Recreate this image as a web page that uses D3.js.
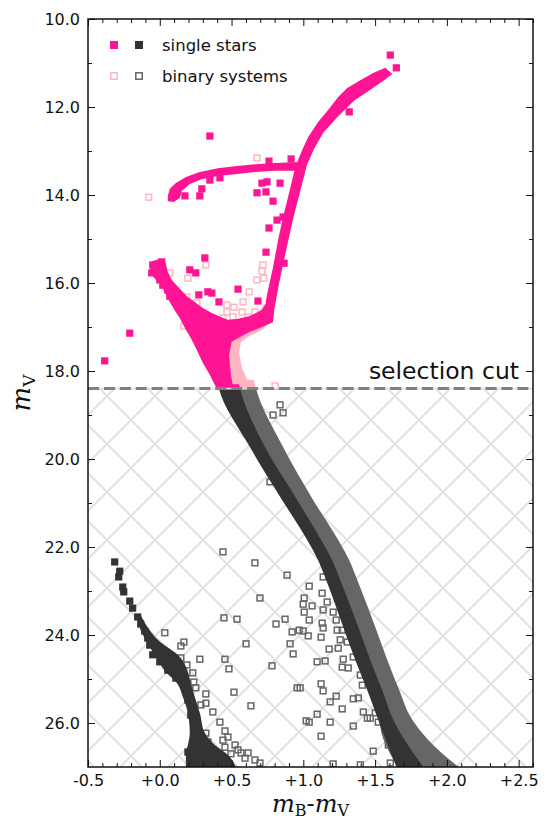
<!DOCTYPE html>
<html>
<head>
<meta charset="utf-8">
<script src="https://cdn.jsdelivr.net/npm/d3@7"></script>
<style>
  body { margin: 0; background: #fff; }
  text { font-family: "DejaVu Sans", sans-serif; fill: #111; }
</style>
</head>
<body>
<svg id="chart" width="549" height="821"></svg>
<script>
// selection cut in m_V
var cutMag = 18.4;

// dense sequences as bands: [mV, B-V left edge, B-V right edge]
var singleMS = [
  [18.30, 0.405, 0.552], [18.40, 0.412, 0.559], [19.73, 0.628, 0.733],
  [20.93, 0.852, 0.957], [21.84, 1.027, 1.124], [22.30, 1.103, 1.201],
  [22.75, 1.159, 1.257], [23.82, 1.278, 1.383], [24.57, 1.362, 1.466],
  [25.32, 1.453, 1.557], [25.93, 1.522, 1.627], [27.00, 1.648, 1.837]
];
var binaryMS = [
  [18.20, 0.45, 0.655], [18.40, 0.46, 0.670], [19.73, 0.65, 0.859],
  [20.93, 0.87, 1.068], [21.84, 1.05, 1.243], [22.30, 1.12, 1.320],
  [22.75, 1.18, 1.376], [23.82, 1.30, 1.501], [24.57, 1.38, 1.585],
  [25.32, 1.47, 1.676], [25.86, 1.52, 1.746], [26.39, 1.56, 1.872],
  [27.00, 1.66, 2.081]
];
var blueMS = [
  [23.55, -0.161, -0.133], [23.89, -0.133, -0.070], [24.11, -0.098, -0.014],
  [24.50, -0.028, 0.140], [24.84, 0.042, 0.196], [25.09, 0.119, 0.216],
  [25.41, 0.161, 0.244], [25.77, 0.196, 0.279], [26.23, 0.209, 0.314],
  [26.50, 0.196, 0.384], [26.73, 0.182, 0.475], [27.00, 0.182, 0.531]
];

// dense regions above the cut as outlines: [B-V, mV]
var turnoffBlob = [
  [0.398, 18.41], [0.349, 18.09], [0.300, 17.82], [0.258, 17.52], [0.216, 17.25],
  [0.175, 17.02], [0.140, 16.80], [0.098, 16.59], [0.063, 16.39], [0.028, 16.16],
  [-0.014, 15.98], [-0.056, 15.82], [-0.070, 15.61], [-0.049, 15.50], [0.000, 15.45],
  [0.042, 15.55], [0.056, 15.75], [0.084, 15.93], [0.133, 16.11], [0.189, 16.30],
  [0.244, 16.43], [0.300, 16.57], [0.363, 16.68], [0.426, 16.77], [0.489, 16.86],
  [0.503, 17.30], [0.482, 17.64], [0.496, 18.09], [0.517, 18.48]
];
var subgiant = [
  [0.461, 16.84], [0.538, 16.82], [0.628, 16.75], [0.712, 16.61], [0.754, 16.39],
  [0.789, 16.50], [0.789, 16.89], [0.712, 17.00], [0.628, 17.11], [0.559, 17.23],
  [0.489, 17.36], [0.461, 17.18]
];
var giantBranch = [
  [0.733, 16.73], [0.740, 16.39], [0.754, 16.16], [0.789, 15.64], [0.824, 15.02],
  [0.859, 14.50], [0.901, 13.95], [0.936, 13.48], [0.964, 13.20], [0.992, 12.98],
  [1.034, 12.68], [1.103, 12.34], [1.173, 12.07], [1.243, 11.77], [1.306, 11.57],
  [1.397, 11.39], [1.487, 11.23], [1.571, 11.11],
  [1.620, 11.25], [1.560, 11.40], [1.470, 11.60], [1.355, 11.85], [1.240, 12.22],
  [1.140, 12.58], [1.075, 12.95], [1.025, 13.32], [0.980, 13.89], [0.932, 14.50],
  [0.896, 15.02], [0.861, 15.55], [0.826, 16.09], [0.798, 16.61], [0.789, 16.89]
];
var horizontalBranch = [
  [0.056, 14.02], [0.070, 13.86], [0.112, 13.73], [0.182, 13.59], [0.279, 13.48],
  [0.405, 13.39], [0.538, 13.34], [0.663, 13.30], [0.803, 13.27], [0.964, 13.25],
  [0.978, 13.45], [0.803, 13.45], [0.663, 13.48], [0.538, 13.52], [0.405, 13.57],
  [0.293, 13.64], [0.209, 13.75], [0.154, 13.91], [0.140, 14.07], [0.098, 14.16],
  [0.056, 14.14]
];
var binarySubgiant = [
  [0.475, 18.48], [0.468, 17.52], [0.503, 17.25], [0.559, 17.07], [0.628, 16.93],
  [0.684, 16.75], [0.719, 16.50], [0.768, 16.45], [0.782, 16.84], [0.712, 17.07],
  [0.628, 17.20], [0.566, 17.34], [0.552, 17.57], [0.573, 17.93], [0.608, 18.20],
  [0.642, 18.48]
];

// individual stars: [B-V, mV]
var singleStars = [
  [1.606, 10.82], [1.648, 11.11], [1.320, 12.11], [0.349, 12.66], [0.761, 13.23],
  [0.915, 13.18], [0.712, 13.73], [0.747, 13.70], [0.838, 13.73], [0.677, 13.95],
  [0.740, 13.93], [0.789, 14.14], [0.293, 13.86], [0.279, 14.02], [0.175, 14.02],
  [0.419, 13.61], [0.349, 13.66], [0.761, 14.75], [0.859, 14.50], [0.817, 14.57],
  [0.740, 15.30], [0.866, 15.55], [0.314, 15.43], [0.209, 15.70], [0.251, 15.77],
  [0.545, 16.14], [0.272, 16.27], [0.335, 16.20], [0.363, 16.23], [0.412, 16.43],
  [0.684, 16.41], [-0.209, 17.14], [-0.384, 17.77],
  [-0.049, 15.59], [-0.021, 15.70], [-0.056, 15.77], [0.000, 15.93], [0.021, 16.05],
  [0.056, 16.16], [0.070, 16.30], [0.112, 16.20], [0.014, 15.52],
  [-0.314, 22.34], [-0.279, 22.55], [-0.286, 22.68], [-0.258, 22.91], [-0.251, 23.02],
  [-0.209, 23.23], [-0.189, 23.39], [-0.154, 23.59], [-0.133, 23.75], [-0.105, 23.91],
  [-0.084, 24.07], [-0.070, 24.23], [-0.049, 24.45], [0.000, 24.61], [0.056, 24.80],
  [0.112, 24.98], [0.175, 25.18], [0.196, 25.48], [0.216, 25.82], [0.237, 26.09],
  [0.258, 26.32], [0.286, 26.48], [0.196, 26.66]
];
var binaryStars = [
  [-0.077, 14.05], [0.677, 13.16], [0.321, 15.59], [0.070, 15.77], [0.196, 15.89],
  [0.189, 16.32], [0.258, 16.45], [0.622, 16.20], [0.719, 15.59], [0.712, 15.73],
  [0.677, 15.93], [0.726, 15.89], [0.580, 16.43], [0.517, 16.55], [0.468, 16.50],
  [0.468, 16.66], [0.510, 16.77], [0.573, 16.66], [0.440, 16.80], [0.168, 16.98],
  [0.615, 16.77], [0.663, 16.66], [0.803, 18.34],
  [0.838, 18.77], [0.789, 19.00], [0.859, 18.95], [0.768, 20.52], [0.440, 22.11],
  [0.663, 22.36], [0.887, 22.64], [0.698, 23.16], [0.447, 23.61], [0.538, 23.64],
  [0.810, 23.75], [0.873, 23.64], [0.922, 23.93], [0.971, 23.89], [1.006, 23.16],
  [0.999, 23.30], [1.006, 23.48], [0.035, 23.95], [0.168, 24.16], [0.147, 24.25],
  [0.601, 24.20], [0.908, 24.20], [0.929, 24.43], [0.279, 24.55], [0.454, 24.55],
  [0.147, 24.52], [0.189, 24.68], [0.482, 24.77], [0.782, 24.70], [0.230, 24.86],
  [0.237, 25.07], [0.251, 25.20], [0.321, 25.34], [0.321, 25.55], [0.286, 25.59],
  [0.517, 25.30], [0.957, 25.20], [0.635, 25.61], [0.370, 25.75], [0.419, 25.98],
  [1.020, 25.95], [0.454, 26.18], [0.475, 26.32], [0.321, 26.23], [0.335, 26.43],
  [0.440, 26.39], [0.454, 26.55], [0.524, 26.50], [0.545, 26.61], [0.566, 26.68],
  [0.615, 26.68], [0.496, 26.70], [0.594, 26.80], [0.663, 26.84], [0.698, 26.91],
  [1.041, 22.89], [1.138, 22.68], [1.131, 23.05], [1.061, 23.34], [1.138, 23.43],
  [1.208, 23.48], [1.166, 23.25], [1.041, 23.66], [1.131, 23.73], [1.229, 23.66],
  [1.138, 23.84], [1.236, 23.89], [1.271, 23.89], [0.999, 23.91], [1.034, 24.02],
  [1.124, 24.05], [1.257, 24.11], [1.306, 24.16], [1.180, 24.32], [1.243, 24.30],
  [1.096, 24.61], [1.152, 24.59], [1.278, 24.55], [1.271, 24.73], [1.313, 24.75],
  [1.348, 24.50], [1.397, 24.91], [1.411, 25.14], [1.124, 25.11], [1.138, 25.27],
  [1.229, 25.39], [1.187, 25.52], [1.271, 25.68], [1.348, 25.45], [1.383, 25.43],
  [1.418, 25.75], [1.446, 25.89], [1.466, 25.89], [1.501, 25.77], [1.522, 25.98],
  [1.096, 25.80], [1.041, 25.98], [1.187, 25.98], [1.348, 26.07], [1.124, 26.30],
  [1.571, 26.16], [1.592, 26.50], [1.487, 26.64], [0.978, 25.20], [1.606, 26.91],
  [1.208, 26.93], [1.397, 26.95]
];

// axes
var xDomain = [-0.5, 2.6];
var yDomain = [10, 27];
var xMajor = [-0.5, 0.0, 0.5, 1.0, 1.5, 2.0, 2.5];
var yMajor = [10, 12, 14, 16, 18, 20, 22, 24, 26];

var legendRows = [
  { label: 'single stars', hollow: false },
  { label: 'binary systems', hollow: true }
];

// colours above / below the cut
var colors = {
  above: { single: '#ff1493', binary: '#ffb6c1' },
  below: { single: '#333333', binary: '#666666' }
};

var margin = { left: 88, right: 533, top: 19, bottom: 767 };
var svg = d3.select('#chart');
var x = d3.scaleLinear().domain(xDomain).range([margin.left, margin.right]);
var y = d3.scaleLinear().domain(yDomain).range([margin.top, margin.bottom]);
var yCut = y(cutMag);

var defs = svg.append('defs');
defs.append('clipPath').attr('id', 'clip-above')
  .append('rect')
  .attr('x', margin.left).attr('y', margin.top)
  .attr('width', margin.right - margin.left).attr('height', yCut - margin.top);
defs.append('clipPath').attr('id', 'clip-below')
  .append('rect')
  .attr('x', margin.left).attr('y', yCut)
  .attr('width', margin.right - margin.left).attr('height', margin.bottom - yCut);

var hatch = defs.append('pattern')
  .attr('id', 'hatch')
  .attr('patternUnits', 'userSpaceOnUse')
  .attr('width', 48).attr('height', 48)
  .attr('x', 131).attr('y', 372);
hatch.append('path')
  .attr('d', 'M-12,-12L60,60M60,-12L-12,60')
  .attr('stroke', '#dddddd')
  .attr('stroke-width', 1.6)
  .attr('fill', 'none');

// hatched region below the cut
svg.append('rect')
  .attr('x', margin.left).attr('y', yCut)
  .attr('width', margin.right - margin.left).attr('height', margin.bottom - yCut)
  .attr('fill', 'url(#hatch)');

var band = d3.area()
  .y(function(d){ return y(d[0]); })
  .x0(function(d){ return x(d[1]); })
  .x1(function(d){ return x(d[2]); })
  .curve(d3.curveMonotoneY);
var outline = d3.line()
  .x(function(d){ return x(d[0]); })
  .y(function(d){ return y(d[1]); })
  .curve(d3.curveLinearClosed);

function drawBinaries(side){
  var c = colors[side].binary;
  var g = svg.append('g').attr('clip-path', 'url(#clip-' + side + ')');
  g.append('path').attr('d', band(binaryMS)).attr('fill', c);
  g.append('path').attr('d', outline(binarySubgiant)).attr('fill', c);
  g.selectAll('rect.bin')
    .data(binaryStars)
    .enter().append('rect')
    .attr('class', 'bin')
    .attr('x', function(d){ return x(d[0]) - 2.9; })
    .attr('y', function(d){ return y(d[1]) - 2.9; })
    .attr('width', 5.8).attr('height', 5.8)
    .attr('fill', 'none')
    .attr('stroke', c)
    .attr('stroke-width', 1.5);
}

function drawSingles(side){
  var c = colors[side].single;
  var g = svg.append('g').attr('clip-path', 'url(#clip-' + side + ')');
  g.append('path').attr('d', band(singleMS)).attr('fill', c);
  g.append('path').attr('d', band(blueMS)).attr('fill', c);
  [turnoffBlob, subgiant, giantBranch, horizontalBranch].forEach(function(poly){
    g.append('path').attr('d', outline(poly)).attr('fill', c);
  });
  g.selectAll('rect.single')
    .data(singleStars)
    .enter().append('rect')
    .attr('class', 'single')
    .attr('x', function(d){ return x(d[0]) - 3.6; })
    .attr('y', function(d){ return y(d[1]) - 3.6; })
    .attr('width', 7.2).attr('height', 7.2)
    .attr('fill', c);
}

drawBinaries('above');
drawBinaries('below');
drawSingles('above');
drawSingles('below');

// selection cut
svg.append('line')
  .attr('x1', margin.left).attr('x2', margin.right)
  .attr('y1', yCut).attr('y2', yCut)
  .attr('stroke', '#dddddd').attr('stroke-width', 1.6);
svg.append('line')
  .attr('x1', margin.left).attr('x2', margin.right)
  .attr('y1', yCut).attr('y2', yCut)
  .attr('stroke', '#808080').attr('stroke-width', 3)
  .attr('stroke-dasharray', '11.1,4.8');
svg.append('text')
  .attr('x', 519).attr('y', 379)
  .attr('text-anchor', 'end')
  .style('font-size', '23.5px')
  .text('selection cut');

// ticks, all pointing inwards
function signed(d){ return (d < 0 ? '-' : '+') + Math.abs(d).toFixed(1); }
var xMinor = d3.range(-0.5, 2.61, 0.1).filter(function(v){ return Math.abs(v*2 - Math.round(v*2)) > 1e-6; });
var yMinor = d3.range(11, 27, 2);

function axisGroup(axis, tx, ty){
  var g = svg.append('g').attr('transform', 'translate(' + tx + ',' + ty + ')').call(axis);
  g.select('.domain').remove();
  g.selectAll('line').attr('stroke', '#111').attr('stroke-width', 1);
  return g;
}

var xb = axisGroup(d3.axisBottom(x).tickValues(xMajor).tickSize(-7).tickPadding(8).tickFormat(signed), 0, margin.bottom);
xb.selectAll('text').style('font-size', '16px').style('font-family', '"DejaVu Sans", sans-serif').attr('fill', '#111');
axisGroup(d3.axisBottom(x).tickValues(xMinor).tickSize(-4).tickFormat(''), 0, margin.bottom);
axisGroup(d3.axisTop(x).tickValues(xMajor).tickSize(-7).tickFormat(''), 0, margin.top);
axisGroup(d3.axisTop(x).tickValues(xMinor).tickSize(-4).tickFormat(''), 0, margin.top);

var yl = axisGroup(d3.axisLeft(y).tickValues(yMajor).tickSize(-7).tickPadding(8).tickFormat(d3.format('.1f')), margin.left, 0);
yl.selectAll('text').style('font-size', '16px').style('font-family', '"DejaVu Sans", sans-serif').attr('fill', '#111');
axisGroup(d3.axisLeft(y).tickValues(yMinor).tickSize(-4).tickFormat(''), margin.left, 0);
axisGroup(d3.axisRight(y).tickValues(yMajor).tickSize(-7).tickFormat(''), margin.right, 0);
axisGroup(d3.axisRight(y).tickValues(yMinor).tickSize(-4).tickFormat(''), margin.right, 0);

// frame
svg.append('rect')
  .attr('x', margin.left).attr('y', margin.top)
  .attr('width', margin.right - margin.left).attr('height', margin.bottom - margin.top)
  .attr('fill', 'none').attr('stroke', '#111').attr('stroke-width', 1.5);

// axis labels
var serif = '"DejaVu Serif", "Liberation Serif", serif';
var xl = svg.append('text')
  .attr('x', (margin.left + margin.right) / 2).attr('y', 812)
  .attr('text-anchor', 'middle')
  .style('font-family', serif).style('font-size', '24px');
xl.append('tspan').style('font-style', 'italic').text('m');
xl.append('tspan').style('font-size', '16px').attr('dy', 4).text('B');
xl.append('tspan').attr('dy', -4).text('-');
xl.append('tspan').style('font-style', 'italic').text('m');
xl.append('tspan').style('font-size', '16px').attr('dy', 4).text('V');

var ylab = svg.append('text')
  .attr('transform', 'translate(30,' + ((margin.top + margin.bottom) / 2) + ') rotate(-90)')
  .attr('text-anchor', 'middle')
  .style('font-family', serif).style('font-size', '26px');
ylab.append('tspan').style('font-style', 'italic').text('m');
ylab.append('tspan').style('font-size', '17px').attr('dy', 5).text('V');

// legend
var legend = svg.append('g');
legendRows.forEach(function(row, i){
  var cy = 45 + i * 31;
  ['above', 'below'].forEach(function(side, j){
    var cx = 114 + j * 25;
    var c = row.hollow ? colors[side].binary : colors[side].single;
    if (row.hollow) {
      legend.append('rect')
        .attr('x', cx - 3.2).attr('y', cy - 3.2).attr('width', 6.4).attr('height', 6.4)
        .attr('fill', 'none').attr('stroke', c).attr('stroke-width', 1.5);
    } else {
      legend.append('rect')
        .attr('x', cx - 4).attr('y', cy - 4).attr('width', 8).attr('height', 8)
        .attr('fill', c);
    }
  });
  legend.append('text')
    .attr('x', 162).attr('y', cy)
    .attr('dy', '0.35em')
    .style('font-size', '16.5px')
    .text(row.label);
});
</script>
</body>
</html>
